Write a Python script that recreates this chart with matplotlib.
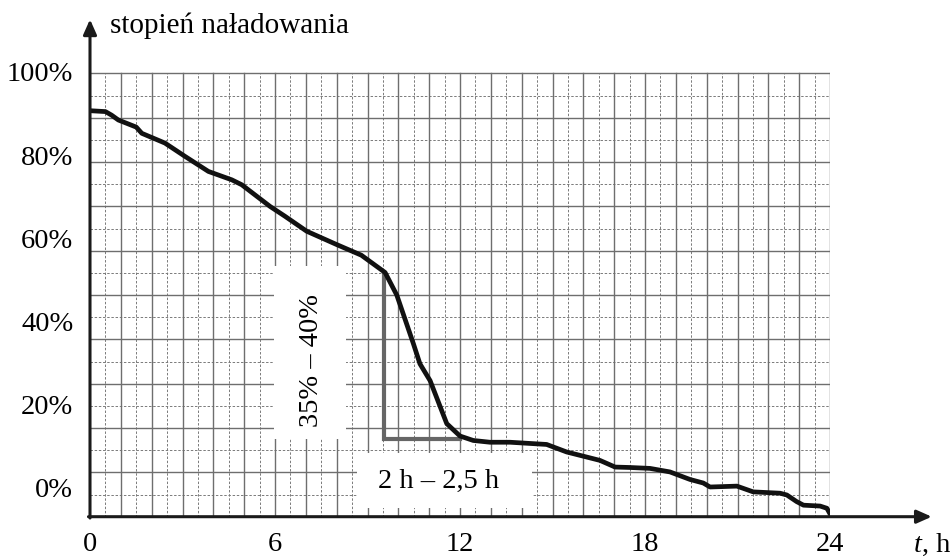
import matplotlib.pyplot as plt
import numpy as np
from matplotlib.patches import Rectangle

plt.rcParams['font.family'] = ['Liberation Serif', 'DejaVu Serif']

# charge curve (hours, grid units 0..100)
hours = [0.0, 0.5, 0.7, 0.92, 1.5, 1.68, 2.43, 3.08, 3.84, 4.6, 4.92, 5.84, 6.32,
         7.03, 8.0, 8.8, 9.57, 9.95, 10.49, 10.7, 11.03, 11.57, 12.0, 12.43, 12.97,
         13.62, 14.81, 15.46, 16.54, 17.03, 17.52, 18.16, 18.81, 19.46, 19.89, 20.11,
         20.98, 21.51, 22.38, 22.6, 22.92, 23.14, 23.68, 23.9, 24.05]
charge = [91.6, 91.4, 90.6, 89.5, 87.9, 86.5, 84.3, 81.3, 77.9, 76.0, 74.9, 70.0, 67.8,
          64.4, 61.4, 59.0, 55.1, 50.0, 39.0, 34.5, 30.7, 21.0, 18.2, 17.2, 16.8,
          16.8, 16.3, 14.6, 12.7, 11.2, 11.1, 10.9, 10.1, 8.4, 7.6, 6.7,
          6.9, 5.6, 5.3, 4.9, 3.4, 2.6, 2.4, 1.9, 0.0]

xtick_pos = [0, 6, 12, 18, 24]
xtick_labels = ['0', '6', '12', '18', '24']
ytick_pos = [6.7, 25.3, 44.0, 62.7, 81.5, 100.4]
ytick_labels = ['0%', '20%', '40%', '60%', '80%', '100%']

# marked drop: from (9.55, 54.8) down to 17.6, then across to 12 h
drop_x = [9.55, 9.55, 12.0]
drop_y = [54.8, 17.6, 17.6]

fig = plt.figure(figsize=(9.52, 5.57), dpi=100)
ax = fig.add_axes([90 / 952, (557 - 516.7) / 557, 740 / 952, 445 / 557])
ax.set_xlim(0, 24)
ax.set_ylim(0, 100)

# grid: solid every hour / 10 %, dashed halves
for x in np.arange(0.5, 24, 1.0):
    ax.plot([x, x], [0, 100], color='#7a7a7a', lw=0.7, ls=(0, (2.5, 1.8)), zorder=1)
for y in np.arange(5, 100, 10):
    ax.plot([0, 24], [y, y], color='#7a7a7a', lw=0.7, ls=(0, (2.5, 1.8)), zorder=1)
for x in range(1, 25):
    ax.plot([x, x], [0, 100], color='#6e6e6e', lw=1.0, zorder=1)
for y in range(10, 101, 10):
    ax.plot([0, 24], [y, y], color='#6e6e6e', lw=1.0, zorder=1)

# white boxes behind labels
ax.add_patch(Rectangle((5.97, 17.5), 2.33, 39.1, facecolor='white', edgecolor='none', zorder=2))
ax.add_patch(Rectangle((8.65, 1.9), 5.68, 12.4, facecolor='white', edgecolor='none', zorder=2))

ax.plot(drop_x, drop_y, color='#666666', lw=3.0, solid_joinstyle='miter', zorder=3)
ax.plot(hours, charge, color='#111111', lw=3.4, solid_capstyle='round',
        solid_joinstyle='round', zorder=4)

ax.text(7.19, 35.2, '35% – 40%', rotation=90, ha='center', va='center', fontsize=20.5, zorder=5)
ax.text(11.29, 7.9, '2 h – 2,5 h', ha='center', va='center', fontsize=20.5, zorder=5)

# axes as arrows
ax.annotate('', xy=(27.3, 0), xytext=(-0.05, 0), annotation_clip=False,
            arrowprops=dict(arrowstyle='-|>,head_length=0.9,head_width=0.4', color='#1a1a1a', lw=2.2,
                            shrinkA=0, shrinkB=0), zorder=6)
ax.annotate('', xy=(0, 112.2), xytext=(0, -0.3), annotation_clip=False,
            arrowprops=dict(arrowstyle='-|>,head_length=0.9,head_width=0.4', color='#1a1a1a', lw=2.2,
                            shrinkA=0, shrinkB=0), zorder=6)

for s in ax.spines.values():
    s.set_visible(False)
ax.set_xticks(xtick_pos, xtick_labels)
ax.set_yticks(ytick_pos, ytick_labels)
ax.tick_params(length=0, labelsize=20.5)
ax.tick_params(axis='x', pad=11)
ax.tick_params(axis='y', pad=12)

fig.text(110 / 952, 1 - 26 / 557, 'stopień naładowania', fontsize=21, ha='left', va='center')
fig.text(914 / 952, 1 - 545 / 557, 't', fontsize=20.5, fontstyle='italic', ha='left', va='center')
fig.text(922 / 952, 1 - 545 / 557, ', h', fontsize=20.5, ha='left', va='center')

plt.savefig('out.png', dpi=100)
